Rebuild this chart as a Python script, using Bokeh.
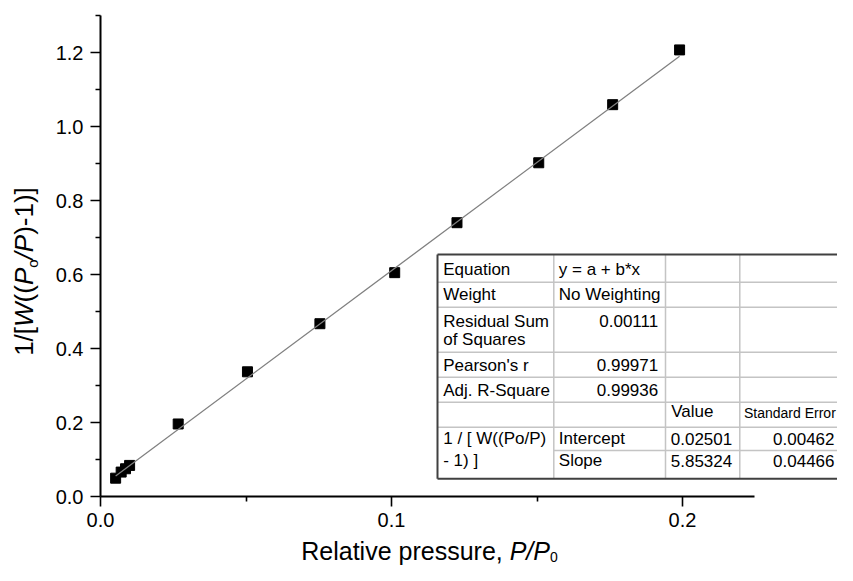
import numpy as np
from bokeh.plotting import figure
from bokeh.layouts import row, column
from bokeh.models import Range1d, FixedTicker, PrintfTickFormatter, ColumnDataSource
from bokeh.core.properties import value
from bokeh.embed import file_html
from bokeh.resources import INLINE

# ---------------- data ----------------
rel_pressure = [0.0052, 0.0071, 0.0086, 0.0100, 0.0267, 0.0505, 0.0754, 0.1011, 0.1225, 0.1506, 0.1760, 0.1990]
bet_value = [0.0495, 0.0660, 0.0750, 0.0840, 0.1960, 0.3370, 0.4670, 0.6050, 0.7400, 0.9020, 1.0590, 1.2070]
fit_intercept = 0.02501
fit_slope = 5.85324

x_ticks = [0.0, 0.1, 0.2]
x_minor_ticks = [0.05, 0.15]
y_ticks = [0.0, 0.2, 0.4, 0.6, 0.8, 1.0, 1.2]
y_minor_ticks = [0.1, 0.3, 0.5, 0.7, 0.9, 1.1, 1.3]

stats_names = ["Equation", "Weight", "Residual Sum", "of Squares", "Pearson's r", "Adj. R-Square"]
stats_values = ["y = a + b*x", "No Weighting", "0.00111", "0.99971", "0.99936"]
param_header = ["Value", "Standard Error"]
dependent_label = ["1 / [ W((Po/P)", "- 1) ]"]
param_names = ["Intercept", "Slope"]
param_values = ["0.02501", "5.85324"]
param_errors = ["0.00462", "0.04466"]

# ---------------- layout (picture pixels) ----------------
TOTAL_W, TOTAL_H = 837, 565
YT_W = 48                  # strip holding the y-axis title
MAIN_H = 536               # main plot height; below it a strip for the x-axis title
FRAME_L, FRAME_T, FRAME_B = 100, 15, 496
PX_PER_X = 2910.0
PX_PER_Y = 370.0
X_END = (TOTAL_W - FRAME_L) / PX_PER_X
Y_END = (FRAME_B - FRAME_T) / PX_PER_Y
X_AXIS_END = (754 - FRAME_L) / PX_PER_X
FONT = "Liberation Sans"
BL_FIX = 0.35              # measured offset of the rendered baseline below the anchor, in em


def dx(px):
    return (px - FRAME_L) / PX_PER_X


def dy(py):
    return (FRAME_B - py) / PX_PER_Y


ARIAL = {' ': 278, '(': 333, ')': 333, '*': 389, '+': 584, ',': 278, '-': 333, '.': 278,
         '/': 278, '=': 584, '[': 278, ']': 278, "'": 191,
         'P': 667, 'R': 722, 'W': 944,
         'a': 556, 'e': 556, 'i': 222, 'l': 222, 'o': 556, 'p': 556, 'r': 333,
         's': 500, 't': 278, 'u': 556, 'v': 500}


def tw(s, size):
    return sum(ARIAL.get(c, 556) for c in s) * size / 1000.0


# ---------------- main plot ----------------
p = figure(width=TOTAL_W - YT_W, height=MAIN_H, x_range=Range1d(0, X_END), y_range=Range1d(0, Y_END),
           output_backend="svg", toolbar_location=None, title=None,
           min_border_left=FRAME_L - YT_W, min_border_right=0, min_border_top=FRAME_T,
           min_border_bottom=MAIN_H - FRAME_B)
p.outline_line_color = None
p.background_fill_color = "white"
p.border_fill_color = "white"
p.xgrid.visible = False
p.ygrid.visible = False

p.xaxis.ticker = FixedTicker(ticks=x_ticks, minor_ticks=x_minor_ticks)
p.yaxis.ticker = FixedTicker(ticks=y_ticks, minor_ticks=y_minor_ticks)
p.xaxis.formatter = PrintfTickFormatter(format="%.1f")
p.yaxis.formatter = PrintfTickFormatter(format="%.1f")
p.xaxis.bounds = (0, X_AXIS_END)
p.yaxis.bounds = (0, Y_END)
for ax in (p.xaxis, p.yaxis):
    ax.axis_line_color = "black"
    ax.axis_line_width = 2
    ax.major_tick_line_color = "black"
    ax.minor_tick_line_color = "black"
    ax.major_tick_line_width = 1.6
    ax.minor_tick_line_width = 1.6
    ax.major_tick_in = 0
    ax.major_tick_out = 10
    ax.minor_tick_in = 0
    ax.minor_tick_out = 5
    ax.major_label_text_font = FONT
    ax.major_label_text_font_size = "20px"
    ax.major_label_text_color = "black"
p.xaxis.major_label_standoff = 6
p.yaxis.major_label_standoff = 7

p.scatter(x=rel_pressure, y=bet_value, marker="square", size=10, fill_color="black", line_color="black")
fx = [min(rel_pressure), max(rel_pressure)]
fy = [fit_intercept + fit_slope * v for v in fx]
p.line(x=fx, y=fy, line_color="#808080", line_width=1.3)

# ---------------- fit table ----------------
T_L, T_T, T_B, T_R = 437, 254, 478.3, 900
col_lines = [553.3, 665, 739.3]
row_lines_full = [281.7, 306.7, 351.7, 376.7, 401.7, 426.7]
row_line_part = 450

p.quad(left=[dx(T_L)], right=[dx(T_R)], top=[dy(T_T)], bottom=[dy(T_B)],
       fill_color="white", line_color=None)
ix0, iy0, ix1, iy1 = [], [], [], []
for yy in row_lines_full:
    ix0.append(dx(T_L)); ix1.append(dx(T_R)); iy0.append(dy(yy)); iy1.append(dy(yy))
ix0.append(dx(col_lines[0])); ix1.append(dx(T_R)); iy0.append(dy(row_line_part)); iy1.append(dy(row_line_part))
for xx in col_lines:
    ix0.append(dx(xx)); ix1.append(dx(xx)); iy0.append(dy(T_T)); iy1.append(dy(T_B))
p.segment(x0=ix0, y0=iy0, x1=ix1, y1=iy1, line_color="#c4c4c4", line_width=1.5)
p.segment(x0=[dx(T_L), dx(T_L), dx(T_L)], y0=[dy(T_T), dy(T_T), dy(T_B)],
          x1=[dx(T_R), dx(T_L), dx(T_R)], y1=[dy(T_T), dy(T_B), dy(T_B)],
          line_color="#404040", line_width=2)

TABLE_SIZE = 17
c1L, c2L, c2R, c3L, c3R, c4L, c4R = 442.7, 558.3, 657.7, 670.7, 731.7, 743.5, 834
base = [275, 299.5, 326.5, 344.5, 370.5, 395.5, 417, 444, 466]
anchor = [b - BL_FIX * TABLE_SIZE for b in base]

left_items = [
    (stats_names[0], c1L, anchor[0]), (stats_names[1], c1L, anchor[1]),
    (stats_names[2], c1L, anchor[2]), (stats_names[3], c1L, anchor[3]),
    (stats_names[4], c1L, anchor[4]), (stats_names[5], c1L, anchor[5]),
    (dependent_label[0], c1L, anchor[7]), (dependent_label[1], c1L, anchor[8]),
    (stats_values[0], c2L, anchor[0]), (stats_values[1], c2L, anchor[1]),
    (param_names[0], c2L, anchor[7]), (param_names[1], c2L, anchor[8]),
    (param_header[0], c3L, anchor[6]),
]
right_items = [
    (stats_values[2], c2R, anchor[2]), (stats_values[3], c2R, anchor[4]), (stats_values[4], c2R, anchor[5]),
    (param_values[0], c3R, anchor[7]), (param_values[1], c3R, anchor[8]),
    (param_errors[0], c4R, anchor[7]), (param_errors[1], c4R, anchor[8]),
]
for items, align in ((left_items, "left"), (right_items, "right")):
    src = ColumnDataSource(dict(text=[t for t, _, _ in items],
                                x=[dx(x) for _, x, _ in items],
                                y=[dy(y) for _, _, y in items]))
    p.text(x="x", y="y", text="text", source=src, text_font=value(FONT), text_font_size=f"{TABLE_SIZE}px",
           text_color="black", text_align=align, text_baseline="alphabetic")
# header of the last column: the reference cuts it at the page edge, so it is set a little smaller
p.text(x=[dx(c4L)], y=[dy(base[6] - BL_FIX * 14)], text=[param_header[1]], text_font=value(FONT),
       text_font_size="14px", text_color="black", text_align="left", text_baseline="alphabetic")


def strip(w, h, bl, br, bt, bb, xr, yr):
    f = figure(width=w, height=h, x_range=Range1d(*xr), y_range=Range1d(*yr),
               output_backend="svg", toolbar_location=None, title=None,
               x_axis_type=None, y_axis_type=None,
               min_border_left=bl, min_border_right=br, min_border_top=bt, min_border_bottom=bb)
    f.outline_line_color = None
    f.background_fill_color = "white"
    f.border_fill_color = "white"
    return f


# ---------------- x-axis title strip ----------------
# frame aligned with the main plot frame: picture x 100..837, picture y 536..565
XT_H = TOTAL_H - MAIN_H
xt = strip(TOTAL_W - YT_W, XT_H, FRAME_L - YT_W, 0, 0, 0, (FRAME_L, TOTAL_W), (0, XT_H))
X_TITLE_SIZE, X_SUB_SIZE = 25, 14
main_base, sub_base = 559, 561.8
x_runs = [("Relative pressure, ", "normal", X_TITLE_SIZE, main_base),
          ("P/P", "italic", X_TITLE_SIZE, main_base),
          ("0", "normal", X_SUB_SIZE, sub_base)]
total = sum(tw(t, s) for t, _, s, _ in x_runs)
cx = 429 - total / 2
for t, st, s, b in x_runs:
    xt.text(x=[cx], y=[TOTAL_H - (b - BL_FIX * s)], text=[t], text_font=value(FONT),
            text_font_size=f"{s}px", text_font_style=st, text_color="black",
            text_align="left", text_baseline="alphabetic")
    cx += tw(t, s)

# ---------------- y-axis title strip ----------------
# frame: picture x 0..48, picture y 15..565 (top aligned with the main plot frame)
yt = strip(YT_W, TOTAL_H, 0, 0, FRAME_T, 0, (0, YT_W), (0, TOTAL_H - FRAME_T))
Y_TITLE_SIZE, Y_SUB_SIZE = 26, 15
ymain_base, ysub_base = 33, 37
y_runs = [("1/[", "normal", Y_TITLE_SIZE, ymain_base), ("W", "italic", Y_TITLE_SIZE, ymain_base),
          ("((", "normal", Y_TITLE_SIZE, ymain_base), ("P", "italic", Y_TITLE_SIZE, ymain_base),
          ("o", "normal", Y_SUB_SIZE, ysub_base), ("/", "italic", Y_TITLE_SIZE, ymain_base),
          ("P", "italic", Y_TITLE_SIZE, ymain_base), (")-1)]", "normal", Y_TITLE_SIZE, ymain_base)]
total = sum(tw(t, s) for t, _, s, _ in y_runs)
cy = 271 + total / 2
for t, st, s, b in y_runs:
    yt.text(x=[b - BL_FIX * s], y=[TOTAL_H - cy], text=[t], text_font=value(FONT),
            text_font_size=f"{s}px", text_font_style=st, text_color="black",
            text_align="left", text_baseline="alphabetic", angle=np.pi / 2, angle_units="rad")
    cy -= tw(t, s)

layout = row(yt, column(p, xt, spacing=0), spacing=0)
open("out.html", "w").write(file_html(layout, INLINE))
